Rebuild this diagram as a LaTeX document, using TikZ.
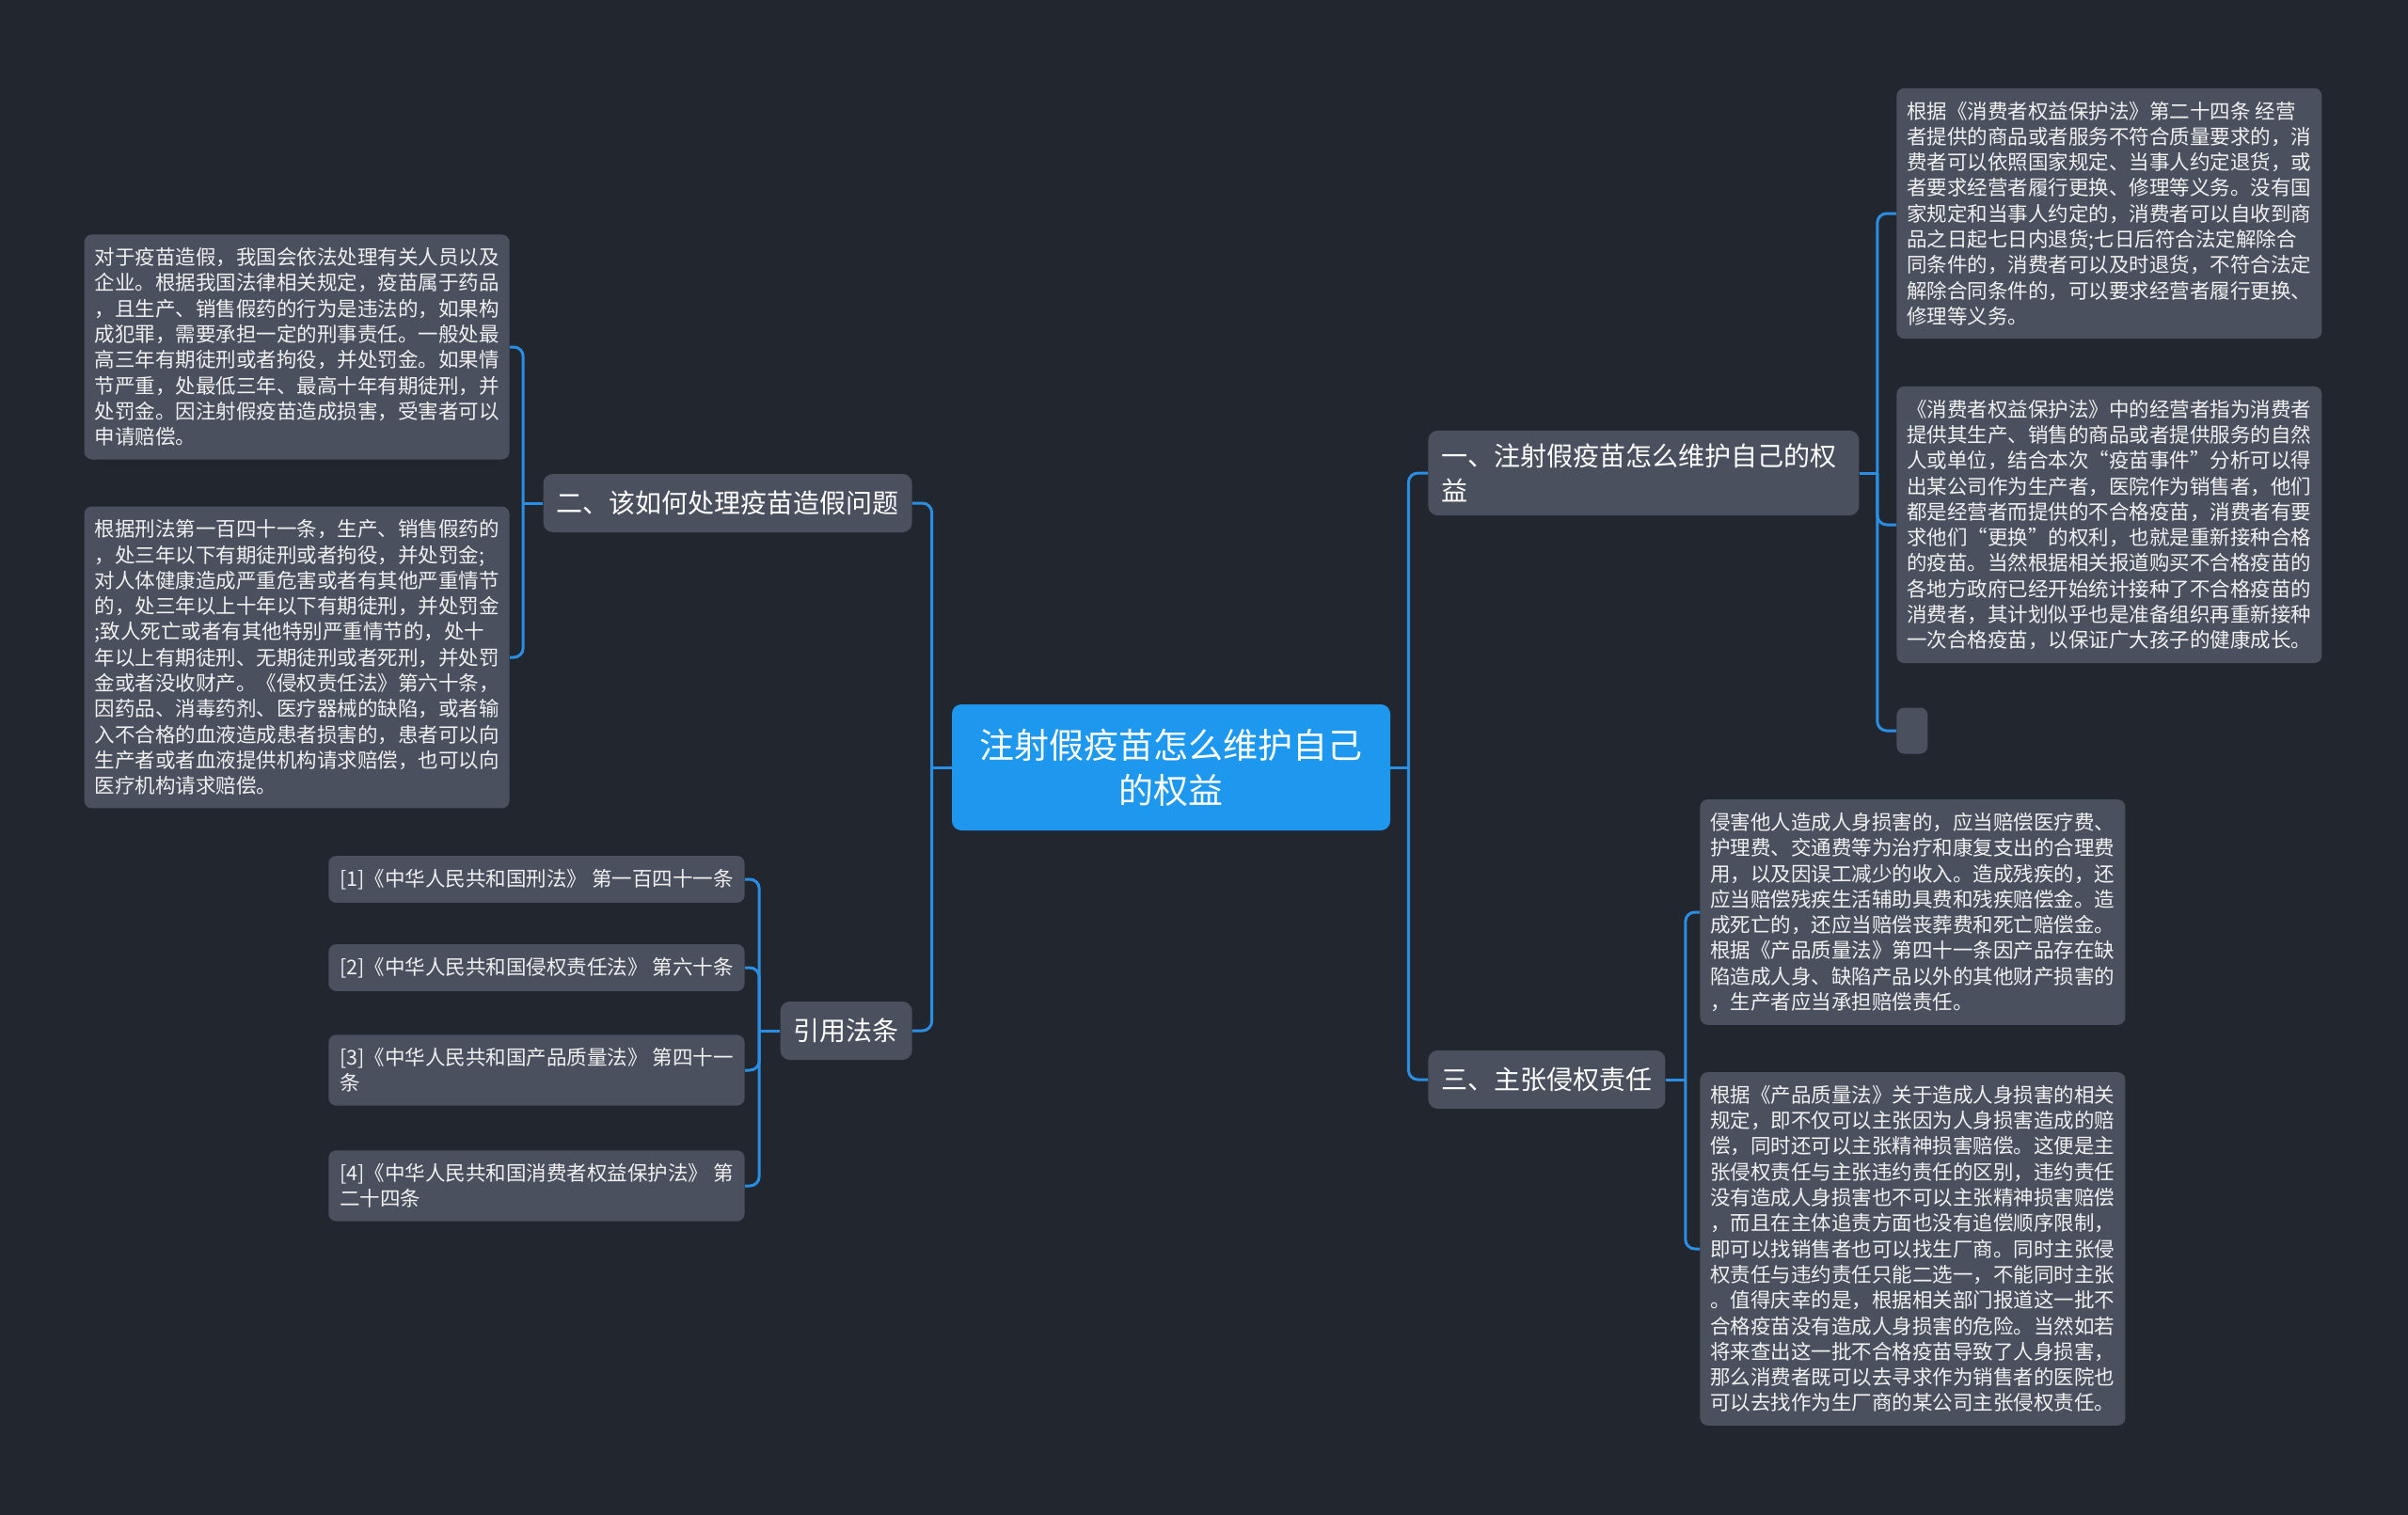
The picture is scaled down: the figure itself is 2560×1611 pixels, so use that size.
\documentclass[tikz,border=0pt]{standalone}
\usepackage{fontspec}
\setmainfont{Noto Sans CJK SC}

\definecolor{bgnavy}{HTML}{22262F}
\definecolor{boxgray}{HTML}{4A505E}
\definecolor{rootblue}{HTML}{1E97EF}
\definecolor{linkblue}{HTML}{2A8FE3}

\begin{document}
\begin{tikzpicture}[x=0.5pt, y=-0.5pt,
    root/.style={fill=rootblue, rounded corners=5pt, text=white, align=center,
                 font=\fontsize{18.5}{24}\selectfont, minimum width=233pt, minimum height=67pt},
    topic/.style={fill=boxgray, rounded corners=5pt, text=white, align=left,
                  font=\fontsize{14}{18.5}\selectfont, inner xsep=7pt, inner ysep=7pt, minimum height=31pt},
    leaf/.style={fill=boxgray, rounded corners=4pt, text=white!94!black, align=left,
                 font=\fontsize{10.75}{13.65}\selectfont, inner xsep=5.5pt, inner ysep=7pt},
    link/.style={draw=linkblue, line width=1.5pt, rounded corners=5pt}
]

\fill[bgnavy] (0,0) rectangle (2560,1611);
\useasboundingbox (0,0) rectangle (2560,1611);

\node[root] (ctr) at (1245,816) {注射假疫苗怎么维护自己\\的权益};

\node[topic, anchor=west, text width=215pt] (r1) at (1518,503) {一、注射假疫苗怎么维护自己的权\\益};
\node[topic, anchor=west] (r3) at (1518,1148) {三、主张侵权责任};
\node[topic, anchor=east] (l1) at (970,535) {二、该如何处理疫苗造假问题};
\node[topic, anchor=east] (l2) at (970,1096) {引用法条};

\node[leaf, anchor=west] (c1) at (2016,227) {根据《消费者权益保护法》第二十四条 经营\\者提供的商品或者服务不符合质量要求的，消\\费者可以依照国家规定、当事人约定退货，或\\者要求经营者履行更换、修理等义务。没有国\\家规定和当事人约定的，消费者可以自收到商\\品之日起七日内退货;七日后符合法定解除合\\同条件的，消费者可以及时退货，不符合法定\\解除合同条件的，可以要求经营者履行更换、\\修理等义务。};
\node[leaf, anchor=west] (c2) at (2016,558) {《消费者权益保护法》中的经营者指为消费者\\提供其生产、销售的商品或者提供服务的自然\\人或单位，结合本次“疫苗事件”分析可以得\\出某公司作为生产者，医院作为销售者，他们\\都是经营者而提供的不合格疫苗，消费者有要\\求他们“更换”的权利，也就是重新接种合格\\的疫苗。当然根据相关报道购买不合格疫苗的\\各地方政府已经开始统计接种了不合格疫苗的\\消费者，其计划似乎也是准备组织再重新接种\\一次合格疫苗，以保证广大孩子的健康成长。};
\node[leaf, anchor=west, inner sep=0pt, minimum width=16.5pt, minimum height=24.5pt] (c3) at (2016,777) {};

\node[leaf, anchor=west] (d1) at (1807,970) {侵害他人造成人身损害的，应当赔偿医疗费、\\护理费、交通费等为治疗和康复支出的合理费\\用，以及因误工减少的收入。造成残疾的，还\\应当赔偿残疾生活辅助具费和残疾赔偿金。造\\成死亡的，还应当赔偿丧葬费和死亡赔偿金。\\根据《产品质量法》第四十一条因产品存在缺\\陷造成人身、缺陷产品以外的其他财产损害的\\，生产者应当承担赔偿责任。};
\node[leaf, anchor=west] (d2) at (1807,1328) {根据《产品质量法》关于造成人身损害的相关\\规定，即不仅可以主张因为人身损害造成的赔\\偿，同时还可以主张精神损害赔偿。这便是主\\张侵权责任与主张违约责任的区别，违约责任\\没有造成人身损害也不可以主张精神损害赔偿\\，而且在主体追责方面也没有追偿顺序限制，\\即可以找销售者也可以找生厂商。同时主张侵\\权责任与违约责任只能二选一，不能同时主张\\。值得庆幸的是，根据相关部门报道这一批不\\合格疫苗没有造成人身损害的危险。当然如若\\将来查出这一批不合格疫苗导致了人身损害，\\那么消费者既可以去寻求作为销售者的医院也\\可以去找作为生厂商的某公司主张侵权责任。};

\node[leaf, anchor=east] (a1) at (542,369) {对于疫苗造假，我国会依法处理有关人员以及\\企业。根据我国法律相关规定，疫苗属于药品\\，且生产、销售假药的行为是违法的，如果构\\成犯罪，需要承担一定的刑事责任。一般处最\\高三年有期徒刑或者拘役，并处罚金。如果情\\节严重，处最低三年、最高十年有期徒刑，并\\处罚金。因注射假疫苗造成损害，受害者可以\\申请赔偿。};
\node[leaf, anchor=east] (a2) at (542,699) {根据刑法第一百四十一条，生产、销售假药的\\，处三年以下有期徒刑或者拘役，并处罚金;\\对人体健康造成严重危害或者有其他严重情节\\的，处三年以上十年以下有期徒刑，并处罚金\\;致人死亡或者有其他特别严重情节的，处十\\年以上有期徒刑、无期徒刑或者死刑，并处罚\\金或者没收财产。《侵权责任法》第六十条，\\因药品、消毒药剂、医疗器械的缺陷，或者输\\入不合格的血液造成患者损害的，患者可以向\\生产者或者血液提供机构请求赔偿，也可以向\\医疗机构请求赔偿。};

\node[leaf, anchor=east, inner xsep=6pt] (b1) at (792,935) {[1]《中华人民共和国刑法》 第一百四十一条};
\node[leaf, anchor=east, inner xsep=6pt] (b2) at (792,1029) {[2]《中华人民共和国侵权责任法》 第六十条};
\node[leaf, anchor=east, inner xsep=6pt] (b3) at (792,1138) {[3]《中华人民共和国产品质量法》 第四十一\\条};
\node[leaf, anchor=east, inner xsep=6pt] (b4) at (792,1261) {[4]《中华人民共和国消费者权益保护法》 第\\二十四条};

\draw[link] (ctr.east) -- ++(19,0) coordinate (rj);
\draw[link] (ctr.west) -- ++(-21,0) coordinate (lj);
\foreach \k in {r1,r3} \draw[link] (rj) |- (\k.west);
\foreach \k in {l1,l2} \draw[link] (lj) |- (\k.east);

\draw[link] (r1.east) -- ++(19,0) coordinate (r1j);
\foreach \k in {c1,c2,c3} \draw[link] (r1j) |- (\k.west);
\draw[link] (r3.east) -- ++(21,0) coordinate (r3j);
\foreach \k in {d1,d2} \draw[link] (r3j) |- (\k.west);
\draw[link] (l1.west) -- ++(-21,0) coordinate (l1j);
\foreach \k in {a1,a2} \draw[link] (l1j) |- (\k.east);
\draw[link] (l2.west) -- ++(-22,0) coordinate (l2j);
\foreach \k in {b1,b2,b3,b4} \draw[link] (l2j) |- (\k.east);

\end{tikzpicture}
\end{document}
